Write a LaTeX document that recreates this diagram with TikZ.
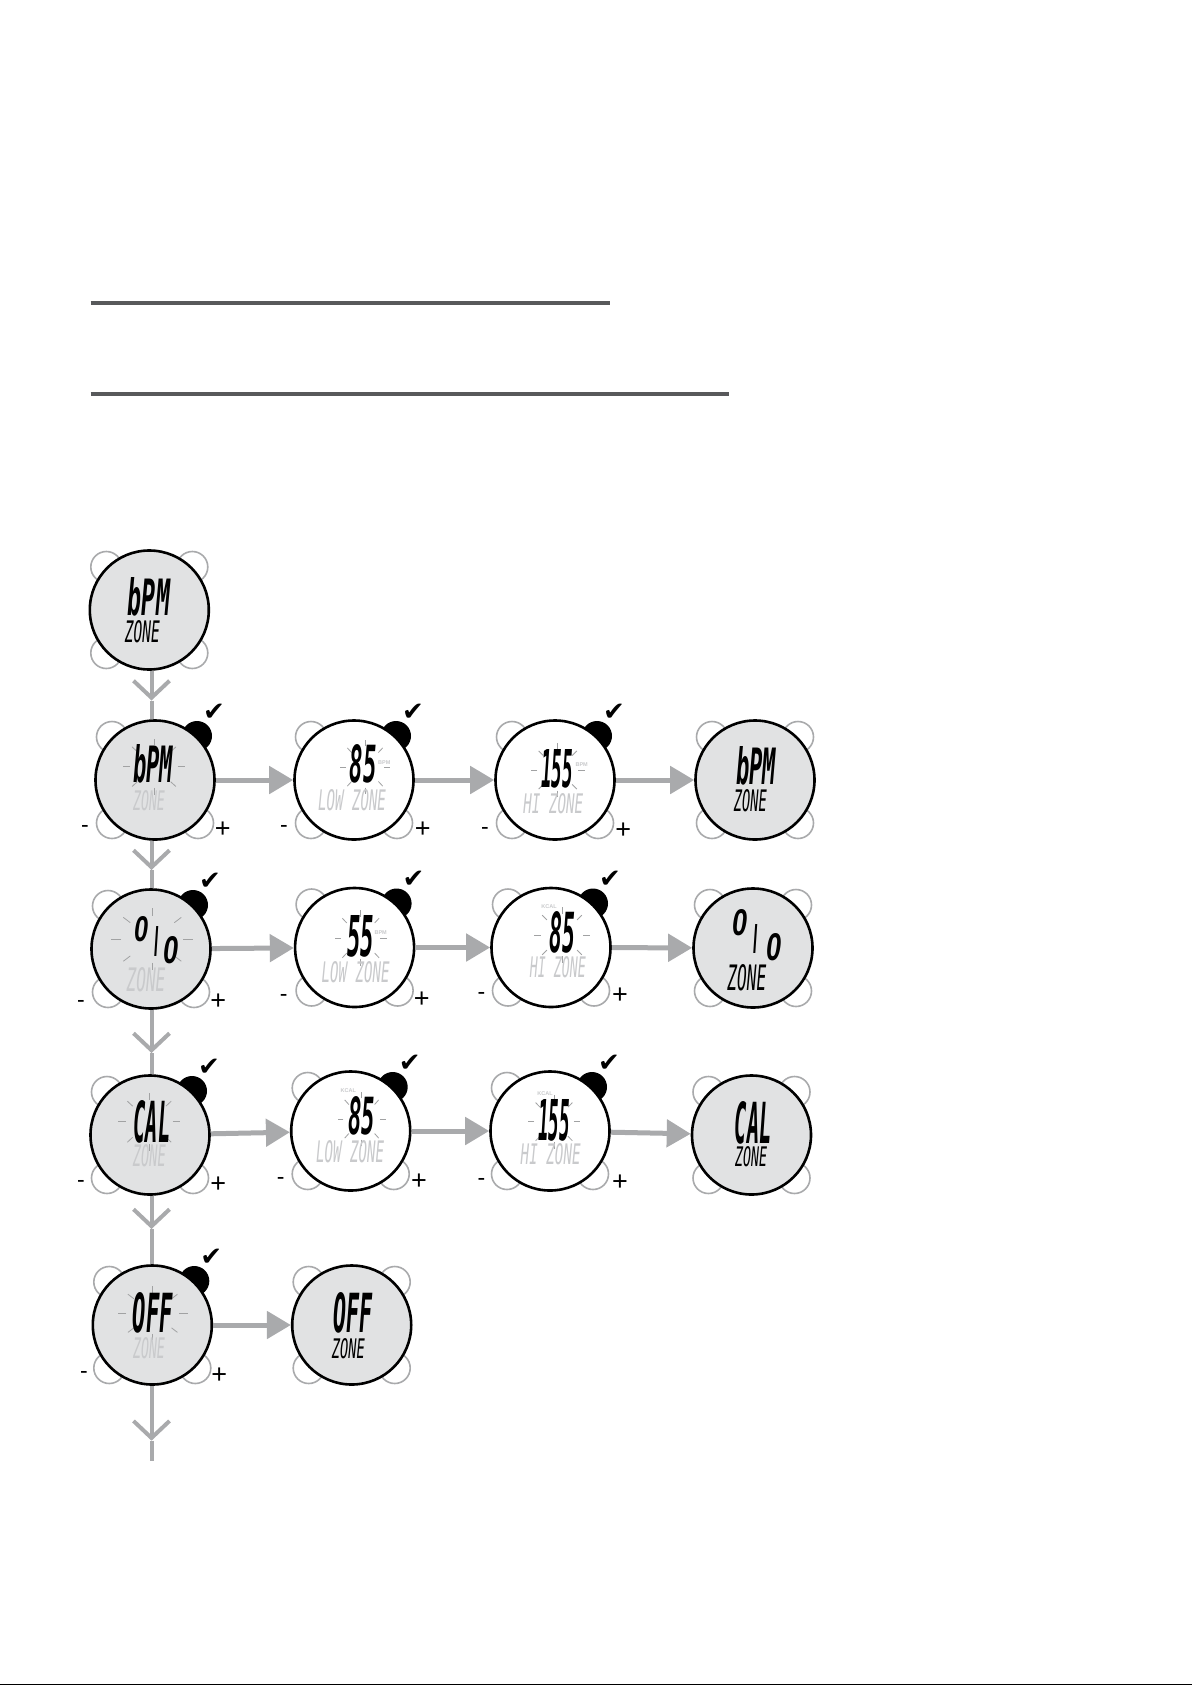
\documentclass[tikz,border=0pt]{standalone}
\usepackage{fontspec}
\setmainfont{Liberation Sans}
\newfontfamily\symfont{DejaVu Sans}
\newfontfamily\lcdfont{DejaVu Sans Mono}
\usetikzlibrary{arrows.meta}
\definecolor{facegrey}{HTML}{E1E2E3}
\definecolor{linegrey}{HTML}{A9AAAC}
\definecolor{dimgrey}{HTML}{C9CACC}
\definecolor{rulegrey}{HTML}{58595B}
\newcommand{\lcd}[3]{\resizebox{#1pt}{#2pt}{\itshape #3}}
\tikzset{
    greyface/.style={circle, draw=black, line width=2.6pt, fill=facegrey, minimum size=119pt, inner sep=0pt},
    whiteface/.style={greyface, fill=white},
    button/.style={draw=linegrey, line width=1.6pt, fill=white},
    knob/.style={fill=black},
    rayline/.style={draw=dimgrey!80!black, line width=0.8pt},
    lcdon/.style={inner sep=0pt, text=black, font=\lcdfont\bfseries},
    lcdthin/.style={inner sep=0pt, text=black, font=\lcdfont},
    lcdoff/.style={inner sep=0pt, text=dimgrey, font=\lcdfont},
    tag/.style={inner sep=0pt, text=dimgrey, font=\bfseries\fontsize{5.5}{6}\selectfont},
    tick/.style={inner sep=0pt, text=black, font=\fontsize{23}{23}\selectfont},
    plustick/.style={inner sep=0pt, text=black, font=\fontsize{27}{27}\selectfont},
    checkmark/.style={inner sep=0pt, font=\symfont\fontsize{26}{26}\selectfont},
    vline/.style={draw=linegrey, line width=4pt},
    harrow/.style={draw=linegrey, line width=5pt, -{Triangle[length=24pt,width=27pt,fill=linegrey]}}
}
\begin{document}
\begin{tikzpicture}[x=1pt,y=-1pt]
    \useasboundingbox (0,0) rectangle (1192,1685);
    \draw[rulegrey, line width=4pt] (90.5,303) -- (609.5,303);
    \draw[rulegrey, line width=4pt] (90.5,394) -- (729,394);
    \draw[black, line width=2pt] (0,1684.5) -- (1192,1684.5);
    % grey buttons, then the black one on the screens being set
    \foreach \x/\y in {149.3/610, 755/780, 753/948, 751.5/1135, 351.7/1325}
        \draw[button] (\x+43,\y-43) circle (15.5);
    \foreach \x/\y in {149.3/610, 155/780, 354/780, 555/780, 755/780, 151/949, 354.6/947.5, 551/947.5, 753/948,
                       150/1135, 350.7/1131, 550/1131, 751.5/1135, 152.3/1325, 351.7/1325} {
        \draw[button] (\x-43,\y-43) circle (15.5);
        \draw[button] (\x-43,\y+43) circle (15.5);
        \draw[button] (\x+43,\y+43) circle (15.5);
    }
    \foreach \n/\x/\y in {bpmset/155/780, bpmlow/354/780, bpmhi/555/780, pctset/151/949, pctlow/354.6/947.5,
                          pcthi/551/947.5, calset/150/1135, callow/350.7/1131, calhi/550/1131, offset/152.3/1325} {
        \fill[knob] (\x+42,\y-44) circle (15);
        \node[checkmark] (\n check) at (\x+59,\y-68) {✔};
    }
    % faces
    \node[greyface] (bpmtop) at (149.3,610) {};
    \node[greyface] (bpmset) at (155,780) {};
    \node[whiteface] (bpmlow) at (354,780) {};
    \node[whiteface] (bpmhi) at (555,780) {};
    \node[greyface] (bpmend) at (755,780) {};
    \node[greyface] (pctset) at (151,949) {};
    \node[whiteface] (pctlow) at (354.6,947.5) {};
    \node[whiteface] (pcthi) at (551,947.5) {};
    \node[greyface] (pctend) at (753,948) {};
    \node[greyface] (calset) at (150,1135) {};
    \node[whiteface] (callow) at (350.7,1131) {};
    \node[whiteface] (calhi) at (550,1131) {};
    \node[greyface] (calend) at (751.5,1135) {};
    \node[greyface] (offset) at (152.3,1325) {};
    \node[greyface] (offend) at (351.7,1325) {};
    % flashing rays
    \foreach \x/\y/\rx/\ry in {154/766.7/31/28, 365/767/25/27, 557.7/770/27/27, 152.3/939.3/41/31, 360.7/938/26/28,
                               562/935/28/28, 149.3/1121.7/31/29, 361.7/1119/24/27, 554/1121.7/26/27, 152.7/1313.3/35/27}
        \foreach \a in {0,45,...,315}
            \draw[rayline] ({\x+.76*\rx*cos(\a)},{\y+.76*\ry*sin(\a)}) -- ({\x+\rx*cos(\a)},{\y+\ry*sin(\a)});
    % lcd texts
    \node[lcdon] (bpmtopa) at (149,596.7) {\lcd{42}{38}{bPM}};
    \node[lcdthin] (bpmtopb) at (142.3,631.7) {\lcd{35}{22}{ZONE}};
    \node[lcdon] (bpmseta) at (153.3,764) {\lcd{40}{38}{bPM}};
    \node[lcdoff] (bpmsetb) at (149,800.7) {\lcd{32}{20}{ZONE}};
    \node[lcdon] (bpmlowa) at (363.3,764) {\lcd{27}{38}{85}};
    \node[lcdoff] (bpmlowb) at (352,800.3) {\lcd{68}{21}{LOW ZONE}};
    \node[tag] (bpmlowc) at (384.3,762.3) {BPM};
    \node[lcdon] (bpmhia) at (557.3,769.3) {\lcd{32}{38}{155}};
    \node[lcdoff] (bpmhib) at (553.3,803.3) {\lcd{60}{20}{HI ZONE}};
    \node[tag] (bpmhic) at (581.7,765) {BPM};
    \node[lcdon] (bpmenda) at (756,766) {\lcd{40}{38}{bPM}};
    \node[lcdthin] (bpmendb) at (750.3,800.7) {\lcd{33}{22}{ZONE}};
    \node[lcdon] (pctseta) at (141,929.3) {\lcd{14}{25}{\rmfamily 0}};
    \node[lcdon] (pctsetb) at (156,941) {\lcd{4}{30}{\rmfamily I}};
    \node[lcdon] (pctsetc) at (170.7,950) {\lcd{15}{27}{\rmfamily 0}};
    \node[lcdoff] (pctsetd) at (146,979.7) {\lcd{39}{24}{ZONE}};
    \node[lcdon] (pctlowa) at (360.7,936) {\lcd{27}{41}{55}};
    \node[lcdoff] (pctlowb) at (355.7,971.7) {\lcd{68}{21}{LOW ZONE}};
    \node[tag] (pctlowc) at (380.7,932.7) {BPM};
    \node[lcdon] (pcthia) at (562,932.7) {\lcd{26}{41}{85}};
    \node[lcdoff] (pcthib) at (557.9,967) {\lcd{56}{21}{HI ZONE}};
    \node[tag] (pcthic) at (549,906.7) {KCAL};
    \node[lcdon] (pctenda) at (740.4,923) {\lcd{15}{26}{\rmfamily 0}};
    \node[lcdon] (pctendb) at (755.7,939) {\lcd{4}{29}{\rmfamily I}};
    \node[lcdon] (pctendc) at (773.6,946.7) {\lcd{15}{27}{\rmfamily 0}};
    \node[lcdthin] (pctendd) at (746.8,977.7) {\lcd{39}{26}{ZONE}};
    \node[lcdon] (calseta) at (152,1121.7) {\lcd{37}{42}{CAL}};
    \node[lcdoff] (calsetb) at (149.3,1156) {\lcd{33}{22}{ZONE}};
    \node[lcdon] (callowa) at (361.7,1116) {\lcd{27}{38}{85}};
    \node[lcdoff] (callowb) at (350,1151.7) {\lcd{68}{22}{LOW ZONE}};
    \node[tag] (callowc) at (348.3,1090.7) {KCAL};
    \node[lcdon] (calhia) at (554,1120.7) {\lcd{32}{41}{155}};
    \node[lcdoff] (calhib) at (550.7,1153.7) {\lcd{60}{21}{HI ZONE}};
    \node[tag] (calhic) at (545,1093.3) {KCAL};
    \node[lcdon] (calenda) at (753.2,1122.7) {\lcd{37}{42}{CAL}};
    \node[lcdthin] (calendb) at (751,1156.7) {\lcd{32}{20}{ZONE}};
    \node[lcdon] (offseta) at (152.7,1313.3) {\lcd{40}{40}{OFF}};
    \node[lcdoff] (offsetb) at (149,1347.7) {\lcd{32}{21}{ZONE}};
    \node[lcdon] (offenda) at (353,1313.3) {\lcd{39}{40}{OFF}};
    \node[lcdthin] (offendb) at (348.3,1348.3) {\lcd{33}{20}{ZONE}};
    % minus and plus
    \foreach \n/\x/\y/\u/\v in {bpmset/85/829/222.7/830, bpmlow/284/829/422.7/830, bpmhi/485/830.7/623.3/830.7,
                                pctset/81/1004.3/218.3/1001.7, pctlow/283.6/998.3/421.8/999.3, pcthi/481.4/996/620/996,
                                calset/81/1184.3/218.3/1185, callow/280.7/1180.7/419/1181.7, calhi/481.4/1181.7/620/1182.3,
                                offset/84/1375/219.3/1375.7} {
        \node[tick] (\n minus) at (\x,\y) {-};
        \node[plustick] (\n plus) at (\u,\v) {+};
    }
    % connectors
    \coordinate (chevone) at (151.5,700.5);
    \coordinate (chevtwo) at (151.5,870);
    \coordinate (chevthree) at (151.5,1053);
    \coordinate (chevfour) at (151.5,1229);
    \coordinate (chevfive) at (151.5,1440.7);
    \coordinate (tailend) at (151.5,1461);
    \tikzset{chev/.style={vline, -{Straight Barb[length=17pt,width=36pt]}}}
    \draw[chev] (bpmtop.south -| chevone) -- (chevone);
    \draw[vline] (chevone) -- (bpmset.north -| chevone);
    \draw[chev] (bpmset.south -| chevtwo) -- (chevtwo);
    \draw[vline] (chevtwo) -- (pctset.north -| chevtwo);
    \draw[chev] (pctset.south -| chevthree) -- (chevthree);
    \draw[vline] (chevthree) -- (calset.north -| chevthree);
    \draw[chev] (calset.south -| chevfour) -- (chevfour);
    \draw[vline] (chevfour) -- (offset.north -| chevfour);
    \draw[chev] (offset.south -| chevfive) -- (chevfive);
    \draw[vline] (chevfive) -- (tailend);
    \draw[harrow] (bpmset) -- (bpmlow);
    \draw[harrow] (bpmlow) -- (bpmhi);
    \draw[harrow] (bpmhi) -- (bpmend);
    \draw[harrow] (pctset) -- (pctlow);
    \draw[harrow] (pctlow) -- (pcthi);
    \draw[harrow] (pcthi) -- (pctend);
    \draw[harrow] (calset) -- (callow);
    \draw[harrow] (callow) -- (calhi);
    \draw[harrow] (calhi) -- (calend);
    \draw[harrow] (offset) -- (offend);
\end{tikzpicture}
\end{document}
